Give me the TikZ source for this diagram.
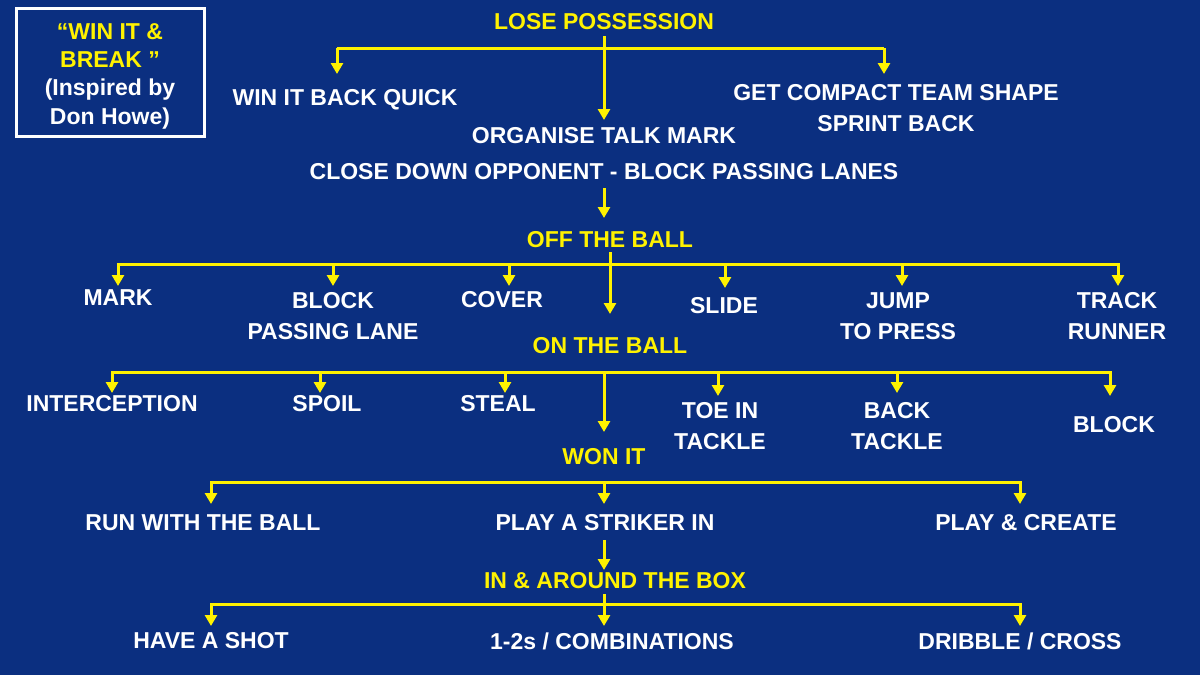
\documentclass[tikz,border=0pt]{standalone}
\usepackage{fontspec}
\setmainfont{Liberation Sans}
\usetikzlibrary{arrows.meta}
\definecolor{bg}{HTML}{0B2F80}
\definecolor{yel}{HTML}{FFF200}
\begin{document}
\begin{tikzpicture}[x=1pt,y=-1pt,
  lbl/.style={text=white,font=\fontsize{23}{31}\selectfont\bfseries,align=center,inner sep=0pt},
  ylbl/.style={lbl,text=yel},
  ln/.style={draw=yel,line width=3pt},
  arr/.style={ln,-{Triangle[length=11pt,width=12pt]}}]
\fill[bg] (0,0) rectangle (1200,675);
\useasboundingbox (0,0) rectangle (1200,675);
\draw[white,line width=3pt] (16,8) rectangle (204,136);
\node[ylbl] (t1) at (110,32) {“WIN IT \&};
\node[ylbl] (t2) at (110,60) {BREAK ”};
\node[lbl] (t3) at (110,90) {(Inspired by};
\node[lbl] (t4) at (110,119) {Don Howe)};
% level 0
\node[ylbl] (lose) at (604,22) {LOSE POSSESSION};
\node[lbl] (quick) at (345,100) {WIN IT BACK QUICK};
\node[lbl] (compact) at (896,108) {GET COMPACT TEAM SHAPE\\SPRINT BACK};
\node[lbl] (org) at (604,136) {ORGANISE TALK MARK};
\node[lbl] (close) at (604,172) {CLOSE DOWN OPPONENT - BLOCK PASSING LANES};
\coordinate (a0) at (604,36);
\coordinate (aL) at (337,48); \coordinate (aR) at (884,48); \coordinate (aM) at (604,48);
\draw[ln] (a0) -- (aM);
\draw[ln] (aL) -- (aR);
\draw[arr] (aL) -- (337,74);
\draw[arr] (aR) -- (884,74);
\draw[arr] (aM) -- (604,120);
% off the ball
\node[ylbl] (off) at (610,240) {OFF THE BALL};
\draw[arr] (604,188) -- (604,218);
\coordinate (bL) at (118,264); \coordinate (bR) at (1118,264);
\draw[ln] (610,252) -- (610,264);
\draw[ln] (bL) -- (bR);
\node[lbl] (mark) at (118,298) {MARK};
\node[lbl] (blockp) at (333,316) {BLOCK\\PASSING LANE};
\node[lbl] (cover) at (502,300) {COVER};
\node[lbl] (slide) at (724,306) {SLIDE};
\node[lbl] (jump) at (898,316) {JUMP\\TO PRESS};
\node[lbl] (track) at (1117,316) {TRACK\\RUNNER};
\node[ylbl] (on) at (610,346) {ON THE BALL};
\foreach \x/\y in {118/286,333/286,509/286,610/314,725/288,902/286,1118/286}
  \draw[arr] (\x,263) -- (\x,\y);
% on the ball
\coordinate (cL) at (112,372); \coordinate (cR) at (1110,372);
\draw[ln] (cL) -- (cR);
\node[lbl] (inter) at (112,404) {INTERCEPTION};
\node[lbl] (spoil) at (327,404) {SPOIL};
\node[lbl] (steal) at (498,404) {STEAL};
\node[lbl] (toe) at (720,426) {TOE IN\\TACKLE};
\node[lbl] (back) at (897,426) {BACK\\TACKLE};
\node[lbl] (block) at (1114,425) {BLOCK};
\node[ylbl] (won) at (604,457) {WON IT};
\foreach \x/\y in {112/393,320/393,505/393,604/432,718/396,897/393,1110/396}
  \draw[arr] (\x,371) -- (\x,\y);
% won it
\coordinate (dL) at (211,482); \coordinate (dR) at (1020,482);
\draw[ln] (dL) -- (dR);
\foreach \x in {211,604,1020} \draw[arr] (\x,481) -- (\x,504);
\node[lbl] (run) at (203,523) {RUN WITH THE BALL};
\node[lbl] (striker) at (605,523) {PLAY A STRIKER IN};
\node[lbl] (create) at (1026,523) {PLAY \& CREATE};
\draw[arr] (604,540) -- (604,570);
\node[ylbl] (box) at (615,581) {IN \& AROUND THE BOX};
\coordinate (eL) at (211,604); \coordinate (eR) at (1020,604);
\draw[ln] (eL) -- (eR);
\draw[ln] (604,594) -- (604,604);
\foreach \x in {211,604,1020} \draw[arr] (\x,603) -- (\x,626);
\node[lbl] (shot) at (211,641) {HAVE A SHOT};
\node[lbl] (combo) at (612,641) {1-2s / COMBINATIONS};
\node[lbl] (drib) at (1020,641) {DRIBBLE / CROSS};
\end{tikzpicture}
\end{document}
